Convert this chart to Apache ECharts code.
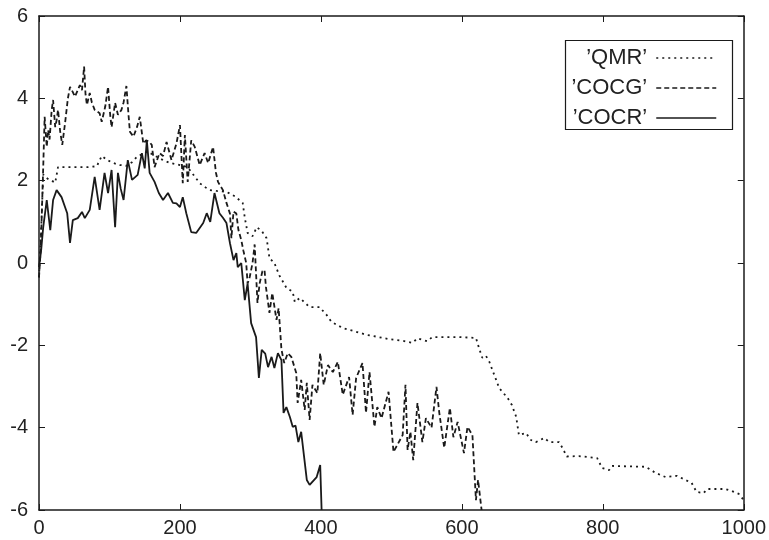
<!DOCTYPE html>
<html>
<head>
<meta charset="utf-8">
<script src="https://cdn.jsdelivr.net/npm/echarts@6/dist/echarts.min.js"></script>
<style>
  html, body { margin: 0; padding: 0; background: #fff; }
  #chart { width: 769px; height: 540px; }
</style>
</head>
<body>
<div id="chart"></div>
<script>
// [x, y] points
var qmrData = [[0,-0.35],[3,0.8],[6,2.15],[12,2.05],[18,2.0],[23,1.95],[27,2.33],[40,2.33],[55,2.33],[70,2.33],[82,2.35],[89,2.6],[97,2.5],[105,2.43],[115,2.38],[124,2.36],[132,2.45],[139,2.58],[153,2.7],[160,2.65],[167,2.58],[176,2.5],[186,2.43],[200,2.38],[207,2.35],[214,2.26],[221,2.1],[228,1.94],[235,1.85],[242,1.77],[252,1.75],[266,1.73],[278,1.62],[289,1.46],[292,1.1],[296,0.73],[303,0.65],[309,0.87],[316,0.78],[323,0.6],[327,0.12],[334,0],[341,-0.3],[351,-0.6],[360,-0.7],[363,-0.95],[370,-0.85],[384,-1.07],[398,-1.07],[408,-1.26],[415,-1.43],[431,-1.58],[450,-1.67],[466,-1.75],[473,-1.77],[497,-1.85],[516,-1.89],[530,-1.94],[537,-1.83],[551,-1.9],[558,-1.8],[578,-1.8],[596,-1.8],[620,-1.82],[625,-2.1],[629,-2.3],[634,-2.25],[639,-2.4],[646,-2.72],[653,-3.04],[665,-3.28],[671,-3.45],[677,-3.73],[681,-4.18],[691,-4.13],[698,-4.3],[705,-4.35],[717,-4.25],[724,-4.35],[738,-4.35],[742,-4.47],[749,-4.7],[766,-4.69],[792,-4.74],[799,-4.98],[809,-5.03],[813,-4.93],[861,-4.95],[875,-5.1],[889,-5.2],[905,-5.17],[926,-5.34],[933,-5.56],[943,-5.59],[948,-5.49],[974,-5.49],[983,-5.54],[993,-5.61],[1000,-5.76]];

var cocgData = [[0,-0.35],[2,0.2],[4,1.2],[6,2.33],[8,3.55],[11,2.82],[13,3.23],[15,3.0],[18,3.72],[20,3.96],[23,3.3],[25,3.47],[27,3.72],[30,3.2],[33,2.87],[37,3.4],[41,4.0],[44,4.28],[48,4.15],[51,4.04],[55,4.2],[58,4.32],[61,4.2],[64,4.77],[66,4.1],[68,3.84],[72,4.13],[75,3.9],[79,3.72],[86,3.64],[89,3.43],[94,3.8],[98,4.28],[101,3.6],[103,3.3],[108,3.89],[112,3.6],[117,3.72],[120,3.9],[124,4.3],[127,3.6],[129,3.19],[134,3.07],[139,3.3],[143,3.55],[148,2.9],[152,2.98],[156,2.95],[160,2.87],[164,2.33],[171,2.67],[176,2.6],[181,2.94],[188,2.5],[195,2.9],[200,3.35],[204,1.94],[207,3.11],[211,1.97],[216,2.98],[221,2.82],[228,2.38],[235,2.67],[240,2.43],[247,2.82],[251,2.2],[254,1.97],[261,1.77],[266,1.46],[271,1.2],[273,0.6],[276,1.25],[280,1.2],[283,0.8],[287,0.56],[290,0.3],[294,0.0],[296,-0.5],[299,-0.34],[303,0.0],[306,0.45],[310,-0.97],[313,-0.5],[317,-0.2],[320,-0.17],[322,-0.58],[327,-1.21],[331,-0.73],[337,-1.38],[340,-1.1],[344,-2.1],[348,-2.43],[353,-2.19],[358,-2.28],[365,-2.67],[367,-3.4],[372,-2.84],[377,-3.57],[380,-2.91],[384,-3.81],[388,-2.96],[395,-3.16],[399,-2.19],[404,-2.96],[410,-2.48],[417,-2.65],[424,-2.4],[431,-3.2],[440,-2.77],[445,-3.69],[450,-2.79],[459,-2.43],[464,-3.64],[469,-2.65],[476,-3.98],[480,-3.5],[486,-3.77],[496,-3.13],[503,-4.59],[516,-4.18],[520,-2.96],[523,-4.54],[527,-4.1],[531,-4.79],[537,-3.4],[544,-4.35],[549,-3.77],[557,-4.0],[564,-3.01],[568,-3.64],[575,-4.49],[583,-3.52],[588,-4.23],[594,-3.86],[603,-4.62],[608,-3.98],[615,-4.18],[620,-5.76],[623,-5.27],[628,-6.0]];

var cocrData = [[0,-0.1],[3,0.3],[6,0.87],[11,1.53],[16,0.8],[20,1.53],[25,1.77],[32,1.6],[40,1.21],[44,0.49],[48,1.04],[55,1.09],[61,1.24],[65,1.09],[72,1.29],[79,2.09],[86,1.29],[93,2.19],[98,1.7],[103,2.26],[108,0.87],[112,2.19],[116,1.8],[120,1.53],[126,2.5],[132,2.02],[140,2.14],[146,2.67],[150,2.3],[153,2.98],[157,2.19],[164,1.97],[170,1.7],[176,1.53],[183,1.7],[190,1.46],[195,1.45],[200,1.36],[204,1.6],[209,1.21],[216,0.75],[223,0.73],[233,0.97],[238,1.21],[243,1.0],[249,1.7],[256,1.21],[261,1.1],[266,0.97],[271,0.48],[276,0.07],[280,0.24],[282,-0.1],[287,0.0],[292,-0.9],[296,-0.5],[301,-1.46],[308,-1.8],[312,-2.79],[316,-2.11],[321,-2.2],[325,-2.53],[330,-2.28],[334,-2.55],[339,-2.19],[344,-2.36],[347,-3.64],[351,-3.5],[356,-3.74],[360,-3.98],[364,-3.95],[368,-4.35],[372,-4.1],[380,-5.27],[384,-5.39],[394,-5.2],[399,-4.91],[401,-6.0]];

var seriesNames = ['\u2019QMR\u2019', '\u2019COCG\u2019', '\u2019COCR\u2019'];

var ink = '#1a1a1a'
var myChart = echarts.init(document.getElementById('chart'))

var xBase = {
  type: 'value', min: 0, max: 1000, interval: 200,
  axisLine: { show: true, onZero: false, lineStyle: { color: ink, width: 1.5 } },
  axisTick: { show: true, inside: true, length: 6, lineStyle: { color: ink, width: 1 } },
  splitLine: { show: false }
}
var yBase = {
  type: 'value', min: -6, max: 6, interval: 2,
  axisLine: { show: true, onZero: false, lineStyle: { color: ink, width: 1.5 } },
  axisTick: { show: true, inside: true, length: 6, lineStyle: { color: ink, width: 1 } },
  splitLine: { show: false }
}

var option = {
  animation: false,
  backgroundColor: '#fff',
  color: [ink, ink, ink],
  textStyle: { fontFamily: 'Liberation Sans, Arial, sans-serif' },
  grid: { left: 39, right: 24, top: 16, bottom: 30, containLabel: false },
  xAxis: [
    Object.assign({}, xBase, {
      position: 'bottom',
      axisLabel: { show: true, color: '#222', fontSize: 20, margin: 8,
        fontFamily: 'Liberation Sans, Arial, sans-serif',
        formatter: function (v) { return String(v) } }
    }),
    Object.assign({}, xBase, { position: 'top', axisLabel: { show: false } })
  ],
  yAxis: [
    Object.assign({}, yBase, {
      position: 'left',
      axisLabel: { show: true, color: '#222', fontSize: 20, margin: 11,
        fontFamily: 'Liberation Sans, Arial, sans-serif' }
    }),
    Object.assign({}, yBase, { position: 'right', axisLabel: { show: false } })
  ],
  legend: {
    orient: 'vertical',
    align: 'right',
    right: 52,
    top: 47,
    padding: 0,
    itemWidth: 60,
    itemHeight: 12,
    itemGap: 8,
    itemStyle: { opacity: 0 },
    lineStyle: { width: 1.5 },
    textStyle: { fontSize: 22, lineHeight: 22, color: '#222', padding: [0, 4, 0, 0],
      fontFamily: 'Liberation Sans, Arial, sans-serif' },
    data: seriesNames
  },
  graphic: [{
    type: 'rect',
    left: 563, top: 38,
    shape: { width: 167, height: 89 },
    style: { fill: 'none', stroke: ink, lineWidth: 1.2 },
    z: 10
  }],
  series: [
    {
      name: seriesNames[0], type: 'line', data: qmrData,
      showSymbol: false, symbol: 'none', clip: true,
      itemStyle: { color: ink },
      lineStyle: { color: ink, width: 1.8, type: [2, 4] }
    },
    {
      name: seriesNames[1], type: 'line', data: cocgData,
      showSymbol: false, symbol: 'none', clip: true,
      itemStyle: { color: ink },
      lineStyle: { color: ink, width: 1.8, type: [5, 3] }
    },
    {
      name: seriesNames[2], type: 'line', data: cocrData,
      showSymbol: false, symbol: 'none', clip: true,
      itemStyle: { color: ink },
      lineStyle: { color: ink, width: 1.8, type: 'solid' }
    }
  ]
}
myChart.setOption(option)
</script>
</body>
</html>
